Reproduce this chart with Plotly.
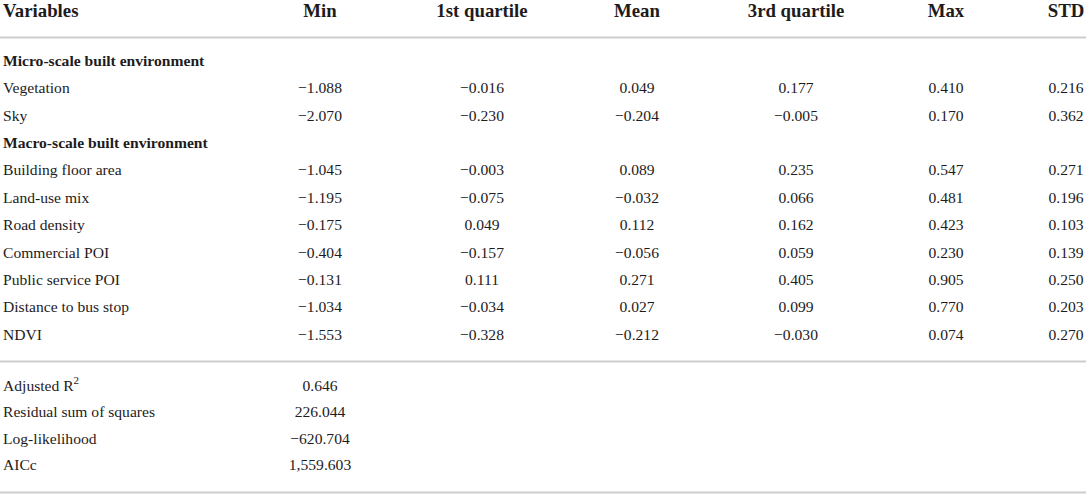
import plotly.graph_objects as go

# table content
columns = ["Variables", "Min", "1st quartile", "Mean", "3rd quartile", "Max", "STD"]

micro_label = "Micro-scale built environment"
micro_vars = ["Vegetation", "Sky"]
micro_min = ["−1.088", "−2.070"]
micro_q1 = ["−0.016", "−0.230"]
micro_mean = ["0.049", "−0.204"]
micro_q3 = ["0.177", "−0.005"]
micro_max = ["0.410", "0.170"]
micro_std = ["0.216", "0.362"]

macro_label = "Macro-scale built environment"
macro_vars = ["Building floor area", "Land-use mix", "Road density", "Commercial POI",
              "Public service POI", "Distance to bus stop", "NDVI"]
macro_min = ["−1.045", "−1.195", "−0.175", "−0.404", "−0.131", "−1.034", "−1.553"]
macro_q1 = ["−0.003", "−0.075", "0.049", "−0.157", "0.111", "−0.034", "−0.328"]
macro_mean = ["0.089", "−0.032", "0.112", "−0.056", "0.271", "0.027", "−0.212"]
macro_q3 = ["0.235", "0.066", "0.162", "0.059", "0.405", "0.099", "−0.030"]
macro_max = ["0.547", "0.481", "0.423", "0.230", "0.905", "0.770", "0.074"]
macro_std = ["0.271", "0.196", "0.103", "0.139", "0.250", "0.203", "0.270"]

fit_labels = ["Adjusted R<sup>2</sup>", "Residual sum of squares", "Log-likelihood", "AICc"]
fit_values = ["0.646", "226.044", "−620.704", "1,559.603"]

FONT = "Liberation Serif"
INK = "#1e1b1c"
RULE = "#cdcdcd"
COL_X = [3, 320, 482, 637, 796, 946, 1066]

# row layout (pixel units, y grows downward)
HEADER_Y = 12
BODY_Y0 = 62
BODY_STEP = 27.4
FIT_Y0 = 387
FIT_STEP = 26.5

sections = [(micro_label, micro_vars), (macro_label, macro_vars)]
stat_cols = [micro_min + macro_min, micro_q1 + macro_q1, micro_mean + macro_mean,
             micro_q3 + macro_q3, micro_max + macro_max, micro_std + macro_std]

section_y, var_y, var_names = [], [], []
row = 0
for label, names in sections:
    section_y.append(BODY_Y0 + BODY_STEP * row)
    row += 1
    for n in names:
        var_y.append(BODY_Y0 + BODY_STEP * row)
        var_names.append(n)
        row += 1
fit_y = [FIT_Y0 + FIT_STEP * i for i in range(len(fit_labels))]

body_font = dict(family=FONT, size=15.6, color=INK)
head_font = dict(family=FONT, size=18.8, color=INK)


def text_trace(xs, ys, texts, pos, font):
    return go.Scatter(x=xs, y=ys, mode="text", text=texts, textposition=pos,
                      textfont=font, hoverinfo="skip", cliponaxis=False)


fig = go.Figure()

# header
fig.add_trace(text_trace([COL_X[0]], [HEADER_Y], ["<b>%s</b>" % columns[0]],
                         "middle right", head_font))
fig.add_trace(text_trace(COL_X[1:], [HEADER_Y] * (len(columns) - 1),
                         ["<b>%s</b>" % c for c in columns[1:]], "middle center", head_font))

# section titles and variable names
fig.add_trace(text_trace([COL_X[0]] * len(section_y), section_y,
                         ["<b>%s</b>" % s[0] for s in sections], "middle right", body_font))
fig.add_trace(text_trace([COL_X[0]] * len(var_y), var_y, var_names, "middle right", body_font))

# statistic columns
for x, vals in zip(COL_X[1:], stat_cols):
    fig.add_trace(text_trace([x] * len(vals), var_y, vals, "middle center", body_font))

# model fit block
fig.add_trace(text_trace([COL_X[0]] * len(fit_labels), fit_y, fit_labels,
                         "middle right", body_font))
fig.add_trace(text_trace([COL_X[1]] * len(fit_values), fit_y, fit_values,
                         "middle center", body_font))

for yy in [37.5, 361.5, 492.5]:
    fig.add_shape(type="line", x0=0, x1=1086, y0=yy, y1=yy,
                  line=dict(color=RULE, width=2))

fig.update_layout(
    width=1089, height=496,
    margin=dict(l=0, r=0, t=0, b=0),
    paper_bgcolor="white", plot_bgcolor="white",
    showlegend=False,
    xaxis=dict(range=[0, 1089], visible=False, fixedrange=True),
    yaxis=dict(range=[496, 0], visible=False, fixedrange=True),
)

fig.write_html("out.html", config={"displayModeBar": False},
               post_script="document.body.style.margin='0';")
